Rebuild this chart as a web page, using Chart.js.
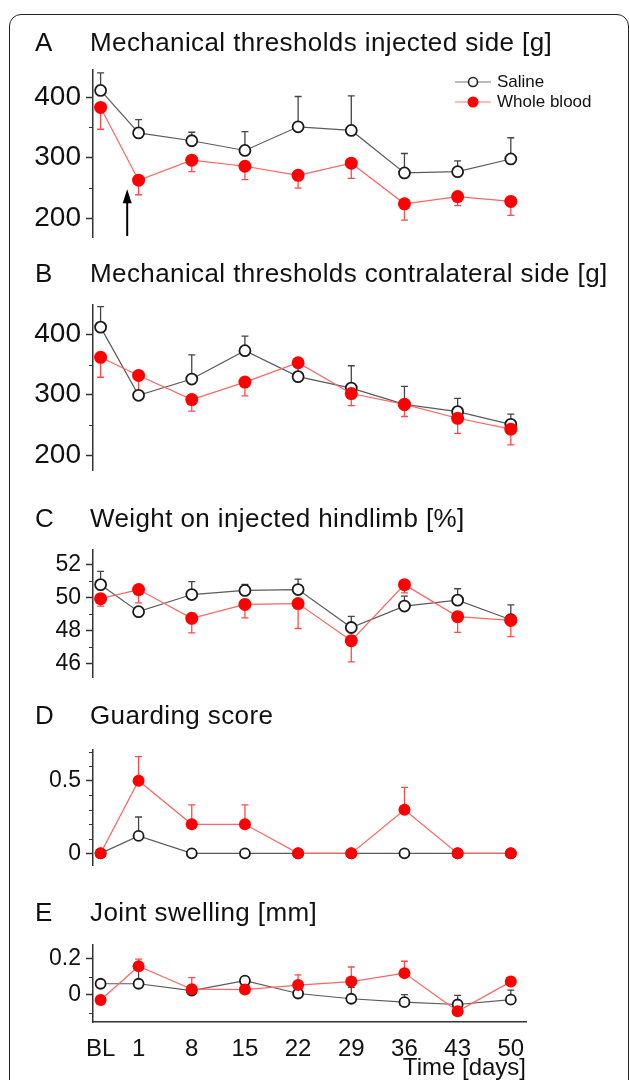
<!DOCTYPE html>
<html>
<head>
<meta charset="utf-8">
<script src="https://cdn.jsdelivr.net/npm/chart.js@4.4.0/dist/chart.umd.min.js"></script>
<style>
  body { margin: 0; width: 629px; height: 1080px; overflow: hidden; background: #fff; position: relative;
         font-family: "Liberation Sans", Arial, sans-serif; color: #111; }
  .frame { position: absolute; left: 9px; top: 14px; width: 620px; height: 1200px; box-sizing: border-box;
           border: 1.5px solid #222; border-radius: 12px; }
  canvas { position: absolute; left: 0; }
  .ttl { position: absolute; font-size: 26px; line-height: 26px; white-space: nowrap; letter-spacing: 0.4px; }
  .legend { position: absolute; left: 455px; top: 72px; font-size: 17px; line-height: 20px; }
  .legend div { display: flex; align-items: center; height: 20px; }
  .legend svg { margin-right: 6px; }
</style>
</head>
<body>
<div class="frame"></div>

<div class="ttl" style="left:35px; top:29px">A</div>
<div class="ttl" style="left:90px; top:29px">Mechanical thresholds injected side [g]</div>
<div class="ttl" style="left:35px; top:260px">B</div>
<div class="ttl" style="left:90px; top:260px">Mechanical thresholds contralateral side [g]</div>
<div class="ttl" style="left:35px; top:505px">C</div>
<div class="ttl" style="left:90px; top:505px">Weight on injected hindlimb [%]</div>
<div class="ttl" style="left:35px; top:702px">D</div>
<div class="ttl" style="left:90px; top:702px">Guarding score</div>
<div class="ttl" style="left:35px; top:899px">E</div>
<div class="ttl" style="left:90px; top:899px">Joint swelling [mm]</div>

<div class="legend">
  <div><svg width="36" height="14"><line x1="0" y1="7" x2="36" y2="7" stroke="#777" stroke-width="1.2"/><circle cx="18" cy="7" r="4.5" fill="#fff" stroke="#222" stroke-width="1.6"/></svg>Saline</div>
  <div><svg width="36" height="14"><line x1="0" y1="7" x2="36" y2="7" stroke="#ff7a7a" stroke-width="1.2"/><circle cx="18" cy="7" r="5.5" fill="#ff0000"/></svg>Whole blood</div>
</div>

<script>
// x positions (days); BL is the baseline before injection
const dayLabels = ['BL', '1', '8', '15', '22', '29', '36', '43', '50'];
const dayValues = [-4, 1, 8, 15, 22, 29, 36, 43, 50];

// A - mechanical thresholds injected side [g]
const salineA    = [411, 341, 328, 312, 351, 345, 275, 277, 298];
const salineErrA = [440, 363, 342, 343, 401, 402, 307, 295, 333];
const bloodA     = [383, 263, 296, 286, 271, 291, 224, 236, 228];
const bloodErrA  = [347, 239, 277, 264, 250, 266, 197, 221, 205];
const ticksA = [200, 300, 400];
const minorA = [250, 350];

// B - mechanical thresholds contralateral side [g]
const salineB    = [412, 299, 326, 373, 330, 311, 284, 272, 251];
const salineErrB = [446, null, 366, 397, 359, 348, 314, 294, 268];
const bloodB     = [362, 332, 292, 321, 353, 302, 284, 261, 243];
const bloodErrB  = [329, 300, 273, 298, 335, 282, 264, 236, 217];
const ticksB = [200, 300, 400];
const minorB = [250, 350];

// C - weight on injected hindlimb [%]
const salineC    = [50.8, 49.16, 50.2, 50.45, 50.5, 48.2, 49.5, 49.86, 48.67];
const salineErrC = [51.6, null, 50.98, 50.82, 51.14, 48.88, 50.1, 50.55, 49.57];
const bloodC     = [49.95, 50.5, 48.76, 49.6, 49.65, 47.4, 50.8, 48.86, 48.63];
const bloodErrC  = [49.5, 49.7, 47.88, 48.78, 48.14, 46.12, 50.3, 47.9, 47.65];
const ticksC = [46, 48, 50, 52];
const minorC = [47, 49, 51];

// D - guarding score
const salineD    = [0, 0.12, 0, 0, 0, 0, 0, 0, 0];
const salineErrD = [null, 0.25, null, null, null, null, null, null, null];
const bloodD     = [0, 0.5, 0.2, 0.2, 0, 0, 0.3, 0, 0];
const bloodErrD  = [null, 0.665, 0.333, 0.333, null, null, 0.454, null, null];
const ticksD = [0, 0.5];
const minorD = [0.1, 0.2, 0.3, 0.4, 0.6, 0.7];

// E - joint swelling [mm]
const salineE    = [0.06, 0.06, 0.022, 0.077, 0.006, -0.023, -0.042, -0.055, -0.028];
const salineErrE = [null, 0.15, 0.05, 0.1, 0.02, 0.04, 0.0, -0.004, 0.025];
const bloodE     = [-0.03, 0.157, 0.03, 0.028, 0.053, 0.072, 0.119, -0.092, 0.072];
const bloodErrE  = [null, 0.197, 0.094, null, 0.109, 0.153, 0.185, null, null];
const ticksE = [0, 0.2];
const minorE = [-0.1, 0.1];

// injection arrow in panel A
const arrowDay = -0.5;
const arrowFrom = 171;
const arrowTo = 248;

Chart.defaults.font.family = '"Liberation Sans", Arial, sans-serif';
Chart.defaults.color = '#111';
Chart.defaults.animation = false;

// vertical error bars, drawn under the markers
const errorBars = {
  id: 'errorBars',
  beforeDatasetsDraw(chart) {
    const ctx = chart.ctx;
    const x = chart.scales.x, y = chart.scales.y;
    chart.data.datasets.forEach(ds => {
      ctx.save();
      ctx.strokeStyle = ds.errColor;
      ctx.lineWidth = 1.3;
      ds.data.forEach((p, i) => {
        const e = ds.errEnd[i];
        if (e == null) return;
        const px = x.getPixelForValue(p.x);
        const py = y.getPixelForValue(p.y);
        const ey = y.getPixelForValue(e);
        ctx.beginPath();
        ctx.moveTo(px, py);
        ctx.lineTo(px, ey);
        ctx.moveTo(px - 3.5, ey);
        ctx.lineTo(px + 3.5, ey);
        ctx.stroke();
      });
      ctx.restore();
    });
  }
};

function minorTicks(values) {
  return {
    id: 'minorTicks',
    afterDraw(chart) {
      const ctx = chart.ctx;
      const y = chart.scales.y;
      const left = chart.chartArea.left;
      ctx.save();
      ctx.strokeStyle = '#333';
      ctx.lineWidth = 1;
      values.forEach(v => {
        const py = Math.round(y.getPixelForValue(v)) + 0.5;
        ctx.beginPath();
        ctx.moveTo(left - 4, py);
        ctx.lineTo(left, py);
        ctx.stroke();
      });
      ctx.restore();
    }
  };
}

const arrow = {
  id: 'arrow',
  afterDatasetsDraw(chart) {
    const {ctx, scales: {x, y}} = chart;
    const px = x.getPixelForValue(arrowDay);
    const y0 = y.getPixelForValue(arrowFrom);
    const y1 = y.getPixelForValue(arrowTo);
    ctx.save();
    ctx.strokeStyle = '#000';
    ctx.fillStyle = '#000';
    ctx.lineWidth = 2;
    ctx.beginPath();
    ctx.moveTo(px, y0);
    ctx.lineTo(px, y1 + 10);
    ctx.stroke();
    ctx.beginPath();
    ctx.moveTo(px, y1);
    ctx.lineTo(px - 4.5, y1 + 14);
    ctx.lineTo(px + 4.5, y1 + 14);
    ctx.closePath();
    ctx.fill();
    ctx.restore();
  }
};

const points = vals => dayValues.map((d, i) => ({ x: d, y: vals[i] }));

function makePanel(p) {
  const showX = !!p.xAxis;
  const axisH = showX ? 61 : 0;
  const canvas = document.createElement('canvas');
  canvas.width = 629;
  canvas.height = (p.bottom - p.top) + 20 + (showX ? axisH : 20);
  canvas.style.top = (p.top - 20) + 'px';
  document.body.insertBefore(canvas, document.body.firstChild.nextSibling);

  const plugins = [errorBars, minorTicks(p.minor)];
  if (p.arrow) plugins.push(arrow);

  return new Chart(canvas.getContext('2d'), {
    type: 'line',
    data: {
      datasets: [
        {
          label: 'Saline', data: points(p.saline), errEnd: p.salineErr, errColor: '#444',
          order: 1, borderColor: '#5a5a5a', borderWidth: 1.2, tension: 0,
          pointRadius: p.r, pointBorderWidth: 1.8, pointBorderColor: '#1a1a1a', pointBackgroundColor: '#fff'
        },
        {
          label: 'Whole blood', data: points(p.blood), errEnd: p.bloodErr, errColor: '#ff4a4a',
          order: 0, borderColor: '#ff6464', borderWidth: 1.2, tension: 0,
          pointRadius: p.r + 1, pointBorderWidth: 0, pointBackgroundColor: '#ff0000'
        }
      ]
    },
    options: {
      responsive: false,
      events: [],
      clip: false,
      layout: { padding: { top: 20, bottom: showX ? 0 : 20, left: 0, right: 103 } },
      plugins: { legend: { display: false }, tooltip: { enabled: false } },
      scales: {
        x: {
          type: 'linear', min: -5, max: 52, display: showX,
          grid: { display: false },
          border: { display: true, color: '#333', width: 1.5 },
          afterBuildTicks: s => { s.ticks = dayValues.map(v => ({ value: v })); },
          afterFit: s => { s.height = axisH; },
          ticks: {
            autoSkip: false, maxRotation: 0, padding: 5, color: '#111',
            font: { size: 24 },
            callback: v => dayLabels[dayValues.indexOf(v)]
          },
          title: { display: showX, text: 'Time [days]', align: 'end', color: '#111',
                   font: { size: 24 }, padding: 0 }
        },
        y: {
          type: 'linear', min: p.min, max: p.max,
          afterFit: s => { s.width = 93; },
          afterBuildTicks: s => { s.ticks = p.ticks.map(v => ({ value: v })); },
          grid: { drawOnChartArea: false, tickLength: 7, tickColor: '#333', tickWidth: 1.5 },
          border: { display: true, color: '#333', width: 1.5 },
          ticks: { padding: 5, color: '#111', font: { size: p.font } }
        }
      }
    },
    plugins: plugins
  });
}

const panels = [
  { top: 68,  bottom: 239,  min: 169,   max: 445,  ticks: ticksA, minor: minorA, font: 28, r: 5.5,
    saline: salineA, salineErr: salineErrA, blood: bloodA, bloodErr: bloodErrA, arrow: true },
  { top: 303, bottom: 472,  min: 175,   max: 449,  ticks: ticksB, minor: minorB, font: 28, r: 5.5,
    saline: salineB, salineErr: salineErrB, blood: bloodB, bloodErr: bloodErrB },
  { top: 550, bottom: 677,  min: 45.2,  max: 52.9, ticks: ticksC, minor: minorC, font: 23, r: 5.5,
    saline: salineC, salineErr: salineErrC, blood: bloodC, bloodErr: bloodErrC },
  { top: 750, bottom: 865,  min: -0.08, max: 0.711, ticks: ticksD, minor: minorD, font: 23, r: 5,
    saline: salineD, salineErr: salineErrD, blood: bloodD, bloodErr: bloodErrD },
  { top: 945, bottom: 1022, min: -0.152, max: 0.275, ticks: ticksE, minor: minorE, font: 23, r: 5,
    saline: salineE, salineErr: salineErrE, blood: bloodE, bloodErr: bloodErrE, xAxis: true }
];

panels.forEach(makePanel);
</script>
</body>
</html>
